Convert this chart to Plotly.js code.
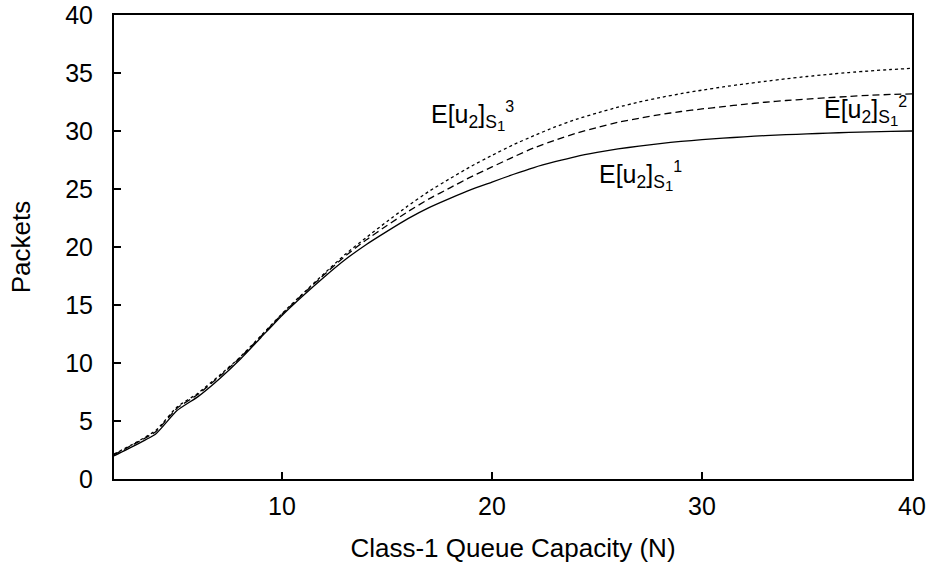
<!DOCTYPE html>
<html>
<head>
<meta charset="utf-8">
<script src="https://cdn.plot.ly/plotly-3.0.1.min.js"></script>
<style>html,body{margin:0;padding:0;background:#fff;}#chart{width:932px;height:565px;}</style>
</head>
<body>
<div id="chart"></div>
<script>
// Class-1 queue capacity N = 2..40
const capacityN = [2,3,4,5,6,7,8,9,10,11,12,13,14,15,16,17,18,19,20,21,22,23,24,25,26,27,28,29,30,31,32,33,34,35,36,37,38,39,40];
// E[u2] for S1^1 (solid)
const eu2S1_1 = [2.0,2.9,3.9,5.9,7.1,8.6,10.3,12.2,14.1,15.8,17.4,18.9,20.2,21.35,22.45,23.4,24.2,24.95,25.6,26.25,26.85,27.35,27.8,28.15,28.45,28.7,28.92,29.1,29.25,29.38,29.5,29.6,29.68,29.75,29.82,29.88,29.93,29.97,30.0];
// E[u2] for S1^2 (dashed)
const eu2S1_2 = [2.1,3.05,4.1,6.1,7.3,8.8,10.45,12.3,14.2,15.95,17.6,19.2,20.6,21.85,23.05,24.15,25.1,26.05,26.9,27.75,28.55,29.2,29.8,30.3,30.75,31.1,31.42,31.68,31.9,32.1,32.3,32.48,32.63,32.75,32.87,32.98,33.08,33.15,33.2];
// E[u2] for S1^3 (dotted)
const eu2S1_3 = [2.15,3.1,4.2,6.2,7.4,8.9,10.5,12.35,14.25,16.0,17.7,19.35,20.8,22.2,23.55,24.8,25.9,26.95,27.9,28.8,29.6,30.35,31.0,31.55,32.05,32.5,32.88,33.22,33.52,33.8,34.05,34.28,34.5,34.7,34.88,35.04,35.18,35.3,35.4];

const xTicks = [10,20,30,40];
const yTicks = [0,5,10,15,20,25,30,35,40];
const subS1 = "<sub>S<sub><span style=\"font-size:15px\">1</span></sub></sub>";
const labelText = [
  "E[u<sub>2</sub>]" + subS1 + "<sup><span style=\"font-size:16px\">1</span></sup>",
  "E[u<sub>2</sub>]" + subS1 + "<sup><span style=\"font-size:16px\">2</span></sup>",
  "E[u<sub>2</sub>]" + subS1 + "<sup><span style=\"font-size:16px\">3</span></sup>"
];

const FONT = "Liberation Sans, Arial, Helvetica, sans-serif";

const traces = [
  {x: capacityN, y: eu2S1_1, mode: "lines", line: {color: "#000", width: 1.3, dash: "solid", shape: "spline", smoothing: 0.5}, name: "S1^1"},
  {x: capacityN, y: eu2S1_2, mode: "lines", line: {color: "#000", width: 1.3, dash: "7px,4px", shape: "spline", smoothing: 0.5}, name: "S1^2"},
  {x: capacityN, y: eu2S1_3, mode: "lines", line: {color: "#000", width: 1.3, dash: "3px,3px", shape: "spline", smoothing: 0.5}, name: "S1^3"}
];

const layout = {
  width: 932, height: 565,
  margin: {l: 114, r: 20, t: 15, b: 86},
  paper_bgcolor: "#fff", plot_bgcolor: "#fff",
  showlegend: false,
  font: {family: FONT, color: "#000", size: 25},
  xaxis: {
    range: [2, 40], tickvals: xTicks, ticktext: xTicks.map(String),
    ticks: "inside", ticklen: 7, tickwidth: 1.3, tickcolor: "#000",
    showline: true, linecolor: "#000", linewidth: 2, mirror: true,
    showgrid: false, zeroline: false,
    tickfont: {family: FONT, size: 25},
    ticklabelstandoff: 4,
    title: {text: "Class-1 Queue Capacity (N)", font: {family: FONT, size: 26}, standoff: 20}
  },
  yaxis: {
    range: [0, 40], tickvals: yTicks, ticktext: yTicks.map(String),
    ticks: "inside", ticklen: 7, tickwidth: 1.3, tickcolor: "#000",
    showline: true, linecolor: "#000", linewidth: 2, mirror: true,
    showgrid: false, zeroline: false,
    tickfont: {family: FONT, size: 25},
    ticklabelstandoff: 14,
    title: {text: "Packets", font: {family: FONT, size: 26}, standoff: 27}
  },
  annotations: [
    {x: 25.0, y: 26.1, xref: "x", yref: "y", text: labelText[0], showarrow: false, xanchor: "left", yanchor: "middle", font: {family: FONT, size: 25, color: "#000"}},
    {x: 39.85, y: 31.7, xref: "x", yref: "y", text: labelText[1], showarrow: false, xanchor: "right", yanchor: "middle", font: {family: FONT, size: 25, color: "#000"}},
    {x: 17.0, y: 31.3, xref: "x", yref: "y", text: labelText[2], showarrow: false, xanchor: "left", yanchor: "middle", font: {family: FONT, size: 25, color: "#000"}}
  ]
};

Plotly.newPlot("chart", traces, layout, {staticPlot: true, displayModeBar: false});
</script>
</body>
</html>
